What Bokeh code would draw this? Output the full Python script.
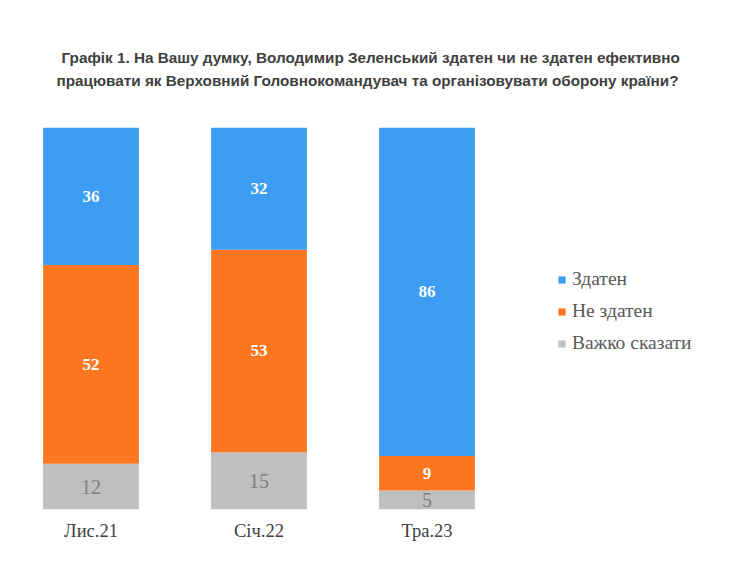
from bokeh.core.properties import value
from bokeh.embed import file_html
from bokeh.models import ColumnDataSource, FixedTicker, Legend, LegendItem, Range1d, Title
from bokeh.plotting import figure
from bokeh.resources import INLINE

periods = ["Лис.21", "Січ.22", "Тра.23"]
able = [36, 32, 86]
unable = [52, 53, 9]
hard_to_say = [12, 15, 5]

series = ["Здатен", "Не здатен", "Важко сказати"]
colors = ["#3d9df2", "#fd7620", "#bfbfbf"]

title_1 = "Графік 1. На Вашу думку, Володимир Зеленський здатен чи не здатен ефективно"
title_2 = "працювати як Верховний Головнокомандувач та організовувати оборону країни?"

pos = list(range(len(periods)))

# stack from the bottom: grey, orange, blue
source = ColumnDataSource(data=dict(
    x=pos,
    grey=hard_to_say,
    orange=unable,
    blue=able,
))

x_start = -0.5 - 6.5 / 168
p = figure(
    x_range=Range1d(x_start, x_start + 724 / 168),
    y_range=(0, 100),
    frame_width=724,
    frame_height=382,
    min_border_left=0,
    min_border_right=0,
    min_border_top=127,
    min_border_bottom=61,
    toolbar_location=None,
    tools="",
    output_backend="svg",
)

bars = p.vbar_stack(
    ["grey", "orange", "blue"],
    x="x",
    width=0.57,
    color=[colors[2], colors[1], colors[0]],
    line_color=None,
    source=source,
)

# segment labels at the middle of each segment
mid_x, mid_y, txt, txt_color, txt_style, txt_size = [], [], [], [], [], []
for i in pos:
    g, o, b = hard_to_say[i], unable[i], able[i]
    for lo, v, c, st, sz in [
        (0, g, "#7f7f7f", "normal", "20px"),
        (g, o, "white", "bold", "17px"),
        (g + o, b, "white", "bold", "17px"),
    ]:
        mid_x.append(i)
        mid_y.append(lo + v / 2)
        txt.append(str(v))
        txt_color.append(c)
        txt_style.append(st)
        txt_size.append(sz)

labels = ColumnDataSource(data=dict(
    x=mid_x, y=mid_y, text=txt, color=txt_color, style=txt_style, size=txt_size,
))
p.text(
    x="x", y="y", text="text", source=labels,
    text_color="color", text_font_style="style", text_font_size="size",
    text_font=value("Liberation Serif"),
    text_align="center", text_baseline="middle",
)

# spacer between the title and the bars
p.add_layout(Title(text=" ", standoff=19, text_font_size="14px"), "above")
p.add_layout(Title(text=title_2, align="left", offset=56, standoff=4,
                   text_font="Liberation Sans", text_font_size="15.3px",
                   text_font_style="bold", text_color="#404040"), "above")
p.add_layout(Title(text=title_1, align="left", offset=61, standoff=4,
                   text_font="Liberation Sans", text_font_size="15.3px",
                   text_font_style="bold", text_color="#404040"), "above")

legend = Legend(
    items=[
        LegendItem(label=series[0], renderers=[bars[2]]),
        LegendItem(label=series[1], renderers=[bars[1]]),
        LegendItem(label=series[2], renderers=[bars[0]]),
    ],
    location=(557, 155),
    orientation="vertical",
    glyph_width=9,
    glyph_height=9,
    label_standoff=6,
    spacing=10,
    margin=0,
    padding=0,
    border_line_color=None,
    background_fill_alpha=0,
    label_text_font="Liberation Serif",
    label_text_font_size="19.5px",
    label_text_color="#595959",
)
p.add_layout(legend)

p.yaxis.visible = False
p.xaxis.ticker = FixedTicker(ticks=pos)
p.xaxis.major_label_overrides = {i: name for i, name in zip(pos, periods)}
p.xaxis.axis_line_color = None
p.xaxis.major_tick_line_color = None
p.xaxis.minor_tick_line_color = None
p.xaxis.major_tick_out = 0
p.xaxis.major_label_standoff = 11
p.xaxis.major_label_text_font = "Liberation Serif"
p.xaxis.major_label_text_font_size = "18.5px"
p.xaxis.major_label_text_color = "#404040"
p.xgrid.visible = False
p.ygrid.visible = False
p.outline_line_color = None

open("out.html", "w").write(file_html(p, INLINE))
